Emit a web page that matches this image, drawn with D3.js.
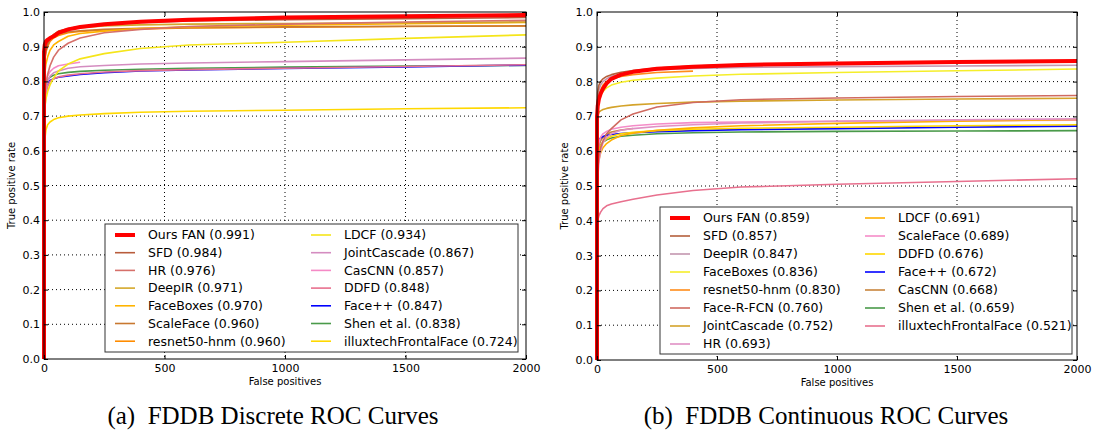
<!DOCTYPE html>
<html>
<head>
<meta charset="utf-8">
<script src="https://cdnjs.cloudflare.com/ajax/libs/d3/7.8.5/d3.min.js"></script>
<style>
  body { margin: 0; background: #fff; }
  svg text { font-family: "DejaVu Sans", sans-serif; fill: #000; }
  .caption { font-family: "Liberation Serif", "Times New Roman", serif; white-space: pre; }
</style>
</head>
<body>
<div id="chart"></div>
<script>
// false positive grid shared by every curve (first 0 repeated so a curve can rise straight up)
var fpGrid = [0, 0, 3, 8, 15, 25, 40, 60, 100, 150, 250, 400, 600, 1000, 1500, 2000];

// (a) discrete ROC
var namesA = ["Ours FAN (0.991)", "SFD (0.984)", "HR (0.976)", "DeepIR (0.971)", "FaceBoxes (0.970)",
  "ScaleFace (0.960)", "resnet50-hnm (0.960)", "LDCF (0.934)", "JointCascade (0.867)", "CasCNN (0.857)",
  "DDFD (0.848)", "Face++ (0.847)", "Shen et al. (0.838)", "illuxtechFrontalFace (0.724)"];
var colorsA = ["#ff0000", "#b85c3c", "#d6706a", "#d4a82a", "#ffb400", "#c87830", "#ff8c00",
  "#f5e51a", "#d48cc0", "#f58ac6", "#e8708e", "#0000ff", "#4a9a4a", "#ffd800"];
var tprA = [
  [0, 0.885, 0.905, 0.915, 0.92, 0.925, 0.93, 0.94, 0.95, 0.957, 0.965, 0.972, 0.978, 0.984, 0.988, 0.991],
  [null, 0.80, 0.86, 0.89, 0.91, 0.925, 0.935, 0.945, 0.952, 0.958, 0.965, 0.97, 0.974, 0.978, 0.981, 0.984],
  [null, null, 0.75, 0.79, 0.82, 0.845, 0.87, 0.89, 0.91, 0.925, 0.94, 0.95, 0.958, 0.965, 0.971, 0.976],
  [null, 0.82, 0.87, 0.895, 0.91, 0.925, 0.935, 0.943, 0.95, 0.955, 0.96, 0.963, 0.965, 0.967, 0.969, 0.971],
  [null, 0.78, 0.82, 0.85, 0.87, 0.89, 0.905, 0.915, 0.93, 0.938, 0.945, 0.952, 0.957, 0.962, 0.966, 0.970],
  [null, 0.83, 0.87, 0.89, 0.905, 0.92, 0.93, 0.937, 0.943, 0.946, 0.95, 0.953, 0.955, 0.957, 0.959, 0.960],
  [null, 0.82, 0.86, 0.885, 0.9, 0.915, 0.925, 0.932, 0.94, 0.944, 0.948, 0.951, 0.954, 0.956, 0.958, 0.960],
  [null, null, 0.72, 0.75, 0.77, 0.79, 0.81, 0.83, 0.85, 0.865, 0.88, 0.895, 0.905, 0.913, 0.924, 0.934],
  [null, null, 0.74, 0.78, 0.80, 0.815, 0.825, 0.83, 0.838, 0.842, 0.846, 0.85, 0.853, 0.857, 0.862, 0.867],
  [null, null, 0.77, 0.80, 0.815, 0.828, 0.838, 0.845, 0.85, 0.855, null, null, null, null, null, null],
  [null, null, 0.72, 0.76, 0.785, 0.80, 0.808, 0.813, 0.818, 0.822, 0.827, 0.831, 0.834, 0.838, 0.843, 0.848],
  [null, null, 0.77, 0.785, 0.795, 0.803, 0.808, 0.812, 0.816, 0.82, 0.825, 0.83, 0.833, 0.837, 0.842, 0.847],
  [null, null, 0.78, 0.795, 0.805, 0.812, 0.818, 0.822, 0.826, 0.829, 0.832, 0.835, 0.838, 0.841, 0.844, 0.846],
  [null, 0.55, 0.63, 0.66, 0.675, 0.683, 0.69, 0.695, 0.70, 0.703, 0.707, 0.711, 0.714, 0.717, 0.721, 0.724]
];

// (b) continuous ROC
var namesB = ["Ours FAN (0.859)", "SFD (0.857)", "DeepIR (0.847)", "FaceBoxes (0.836)", "resnet50-hnm (0.830)",
  "Face-R-FCN (0.760)", "JointCascade (0.752)", "HR (0.693)", "LDCF (0.691)", "ScaleFace (0.689)",
  "DDFD (0.676)", "Face++ (0.672)", "CasCNN (0.668)", "Shen et al. (0.659)", "illuxtechFrontalFace (0.521)"];
var colorsB = ["#ff0000", "#b5603c", "#c496b0", "#f5ee2a", "#ff8c1a", "#d06a60", "#d4a32a", "#e090c4",
  "#ffb000", "#f58cc8", "#ffd800", "#0000ff", "#c8843c", "#4a9a4a", "#e8708e"];
var tprB = [
  [0, 0.70, 0.73, 0.75, 0.765, 0.78, 0.795, 0.808, 0.82, 0.828, 0.837, 0.843, 0.848, 0.852, 0.856, 0.859],
  [null, 0.72, 0.77, 0.79, 0.80, 0.808, 0.815, 0.82, 0.827, 0.832, 0.839, 0.845, 0.849, 0.852, 0.855, 0.857],
  [null, 0.70, 0.75, 0.775, 0.79, 0.80, 0.808, 0.815, 0.822, 0.828, 0.834, 0.838, 0.841, 0.843, 0.845, 0.847],
  [null, null, 0.72, 0.745, 0.76, 0.772, 0.782, 0.79, 0.798, 0.804, 0.81, 0.816, 0.821, 0.826, 0.831, 0.836],
  [null, null, 0.73, 0.76, 0.775, 0.79, 0.80, 0.808, 0.815, 0.82, 0.826, 0.830, null, null, null, null],
  [null, null, 0.55, 0.585, 0.61, 0.63, 0.65, 0.665, 0.69, 0.707, 0.727, 0.74, 0.748, 0.753, 0.757, 0.760],
  [null, null, 0.70, 0.712, 0.716, 0.72, 0.723, 0.726, 0.73, 0.733, 0.737, 0.741, 0.744, 0.747, 0.75, 0.752],
  [null, null, 0.52, 0.57, 0.60, 0.625, 0.64, 0.65, 0.66, 0.665, 0.671, 0.676, 0.681, 0.686, 0.690, 0.693],
  [null, null, 0.55, 0.575, 0.595, 0.61, 0.622, 0.632, 0.645, 0.652, 0.66, 0.667, 0.673, 0.68, 0.686, 0.691],
  [null, null, 0.60, 0.625, 0.64, 0.65, 0.657, 0.663, 0.669, 0.673, 0.678, 0.682, 0.684, 0.686, 0.688, 0.689],
  [null, null, 0.57, 0.60, 0.615, 0.627, 0.636, 0.643, 0.65, 0.654, 0.659, 0.663, 0.666, 0.669, 0.673, 0.676],
  [null, 0.60, 0.62, 0.633, 0.638, 0.642, 0.645, 0.648, 0.651, 0.653, 0.656, 0.659, 0.662, 0.665, 0.669, 0.672],
  [null, null, 0.59, 0.615, 0.63, 0.64, 0.648, 0.655, 0.661, 0.665, null, null, null, null, null, null],
  [null, null, 0.58, 0.605, 0.617, 0.626, 0.633, 0.638, 0.643, 0.646, 0.65, 0.653, 0.655, 0.657, 0.658, 0.659],
  [null, 0.37, 0.40, 0.415, 0.425, 0.435, 0.443, 0.448, 0.455, 0.462, 0.474, 0.487, 0.497, 0.505, 0.513, 0.521]
];

var xTicks = [0, 500, 1000, 1500, 2000];
var yTicks = [0, 0.1, 0.2, 0.3, 0.4, 0.5, 0.6, 0.7, 0.8, 0.9, 1.0];

var svg = d3.select("#chart").append("svg")
    .attr("width", 1099)
    .attr("height", 437);

function drawPanel(opt) {
    var w = opt.right - opt.left, h = opt.bottom - opt.top;
    var x = d3.scaleLinear().domain([0, 2000]).range([0, w]);
    var y = d3.scaleLinear().domain([0, 1]).range([h, 0]);

    var g = svg.append("g").attr("transform", "translate(" + opt.left + "," + opt.top + ")");

    // dotted grid
    g.append("g").selectAll("line.gx").data(xTicks.slice(1, -1)).enter().append("line")
        .attr("x1", d => x(d)).attr("x2", d => x(d)).attr("y1", 0).attr("y2", h)
        .attr("stroke", "#000").attr("stroke-width", 1).attr("stroke-dasharray", "1,3");
    g.append("g").selectAll("line.gy").data(yTicks.slice(1, -1)).enter().append("line")
        .attr("x1", 0).attr("x2", w).attr("y1", d => y(d)).attr("y2", d => y(d))
        .attr("stroke", "#000").attr("stroke-width", 1).attr("stroke-dasharray", "1,3");

    // curves
    var line = d3.line()
        .defined(d => d[1] != null)
        .x(d => x(d[0]))
        .y(d => y(d[1]));
    var order = d3.range(opt.series.length).reverse();
    order.forEach(function(i) {
        var pts = fpGrid.map((f, k) => [f, opt.series[i][k]]);
        g.append("path")
            .datum(pts)
            .attr("fill", "none")
            .attr("stroke", opt.colors[i])
            .attr("stroke-width", i == 0 ? 4 : 1.6)
            .attr("stroke-linejoin", "round")
            .attr("d", line);
    });

    // axes, ticks pointing inward on all sides
    var fmtY = d3.format(".1f");
    g.append("g").attr("transform", "translate(0," + h + ")")
        .call(d3.axisBottom(x).tickValues(xTicks).tickFormat(d3.format("d")).tickSizeInner(-4).tickSizeOuter(0).tickPadding(5))
        .call(a => a.select(".domain").remove())
        .call(a => a.selectAll("text").attr("font-size", 11).attr("font-family", "DejaVu Sans"));
    g.append("g")
        .call(d3.axisLeft(y).tickValues(yTicks).tickFormat(fmtY).tickSizeInner(-4).tickSizeOuter(0).tickPadding(4))
        .call(a => a.select(".domain").remove())
        .call(a => a.selectAll("text").attr("font-size", 11).attr("font-family", "DejaVu Sans"));
    g.append("g")
        .call(d3.axisTop(x).tickValues(xTicks).tickFormat("").tickSizeInner(-4).tickSizeOuter(0))
        .call(a => a.select(".domain").remove());
    g.append("g").attr("transform", "translate(" + w + ",0)")
        .call(d3.axisRight(y).tickValues(yTicks).tickFormat("").tickSizeInner(-4).tickSizeOuter(0))
        .call(a => a.select(".domain").remove());

    g.append("rect")
        .attr("width", w).attr("height", h)
        .attr("fill", "none").attr("stroke", "#000").attr("stroke-width", 1);

    // axis titles
    g.append("text")
        .attr("x", w / 2).attr("y", h + 26)
        .attr("text-anchor", "middle").attr("font-size", 10)
        .text("False positives");
    g.append("text")
        .attr("transform", "translate(" + (-29) + "," + (h / 2) + ") rotate(-90)")
        .attr("text-anchor", "middle").attr("font-size", 10)
        .text("True positive rate");

    // legend
    var lg = svg.append("g");
    lg.append("rect")
        .attr("x", opt.legend.x).attr("y", opt.legend.y)
        .attr("width", opt.legend.w).attr("height", opt.legend.h)
        .attr("fill", "#fff").attr("stroke", "#333").attr("stroke-width", 1);
    opt.names.forEach(function(name, i) {
        var col = i < opt.legend.rows ? 0 : 1;
        var row = i % opt.legend.rows;
        var lx = opt.legend.x + 10 + col * opt.legend.colW;
        var ly = opt.legend.y + 11 + row * opt.legend.rowH;
        lg.append("line")
            .attr("x1", lx).attr("x2", lx + 20).attr("y1", ly).attr("y2", ly)
            .attr("stroke", opt.colors[i]).attr("stroke-width", i == 0 ? 4 : 1.6);
        lg.append("text")
            .attr("x", lx + 33).attr("y", ly).attr("dy", "0.35em")
            .attr("font-size", 12.5)
            .text(name);
    });

    svg.append("text")
        .attr("class", "caption")
        .attr("x", opt.captionX).attr("y", 424)
        .attr("text-anchor", "middle").attr("font-size", 25)
        .text(opt.caption);
}

drawPanel({
    left: 44, right: 526, top: 12, bottom: 359,
    series: tprA, colors: colorsA, names: namesA,
    legend: {x: 105, y: 224, w: 413, h: 128, rows: 7, rowH: 17.7, colW: 196},
    caption: "(a)  FDDB Discrete ROC Curves", captionX: 273
});
drawPanel({
    left: 597, right: 1077, top: 12, bottom: 360,
    series: tprB, colors: colorsB, names: namesB,
    legend: {x: 660, y: 207, w: 412, h: 147, rows: 8, rowH: 18, colW: 195},
    caption: "(b)  FDDB Continuous ROC Curves", captionX: 826
});
</script>
</body>
</html>
